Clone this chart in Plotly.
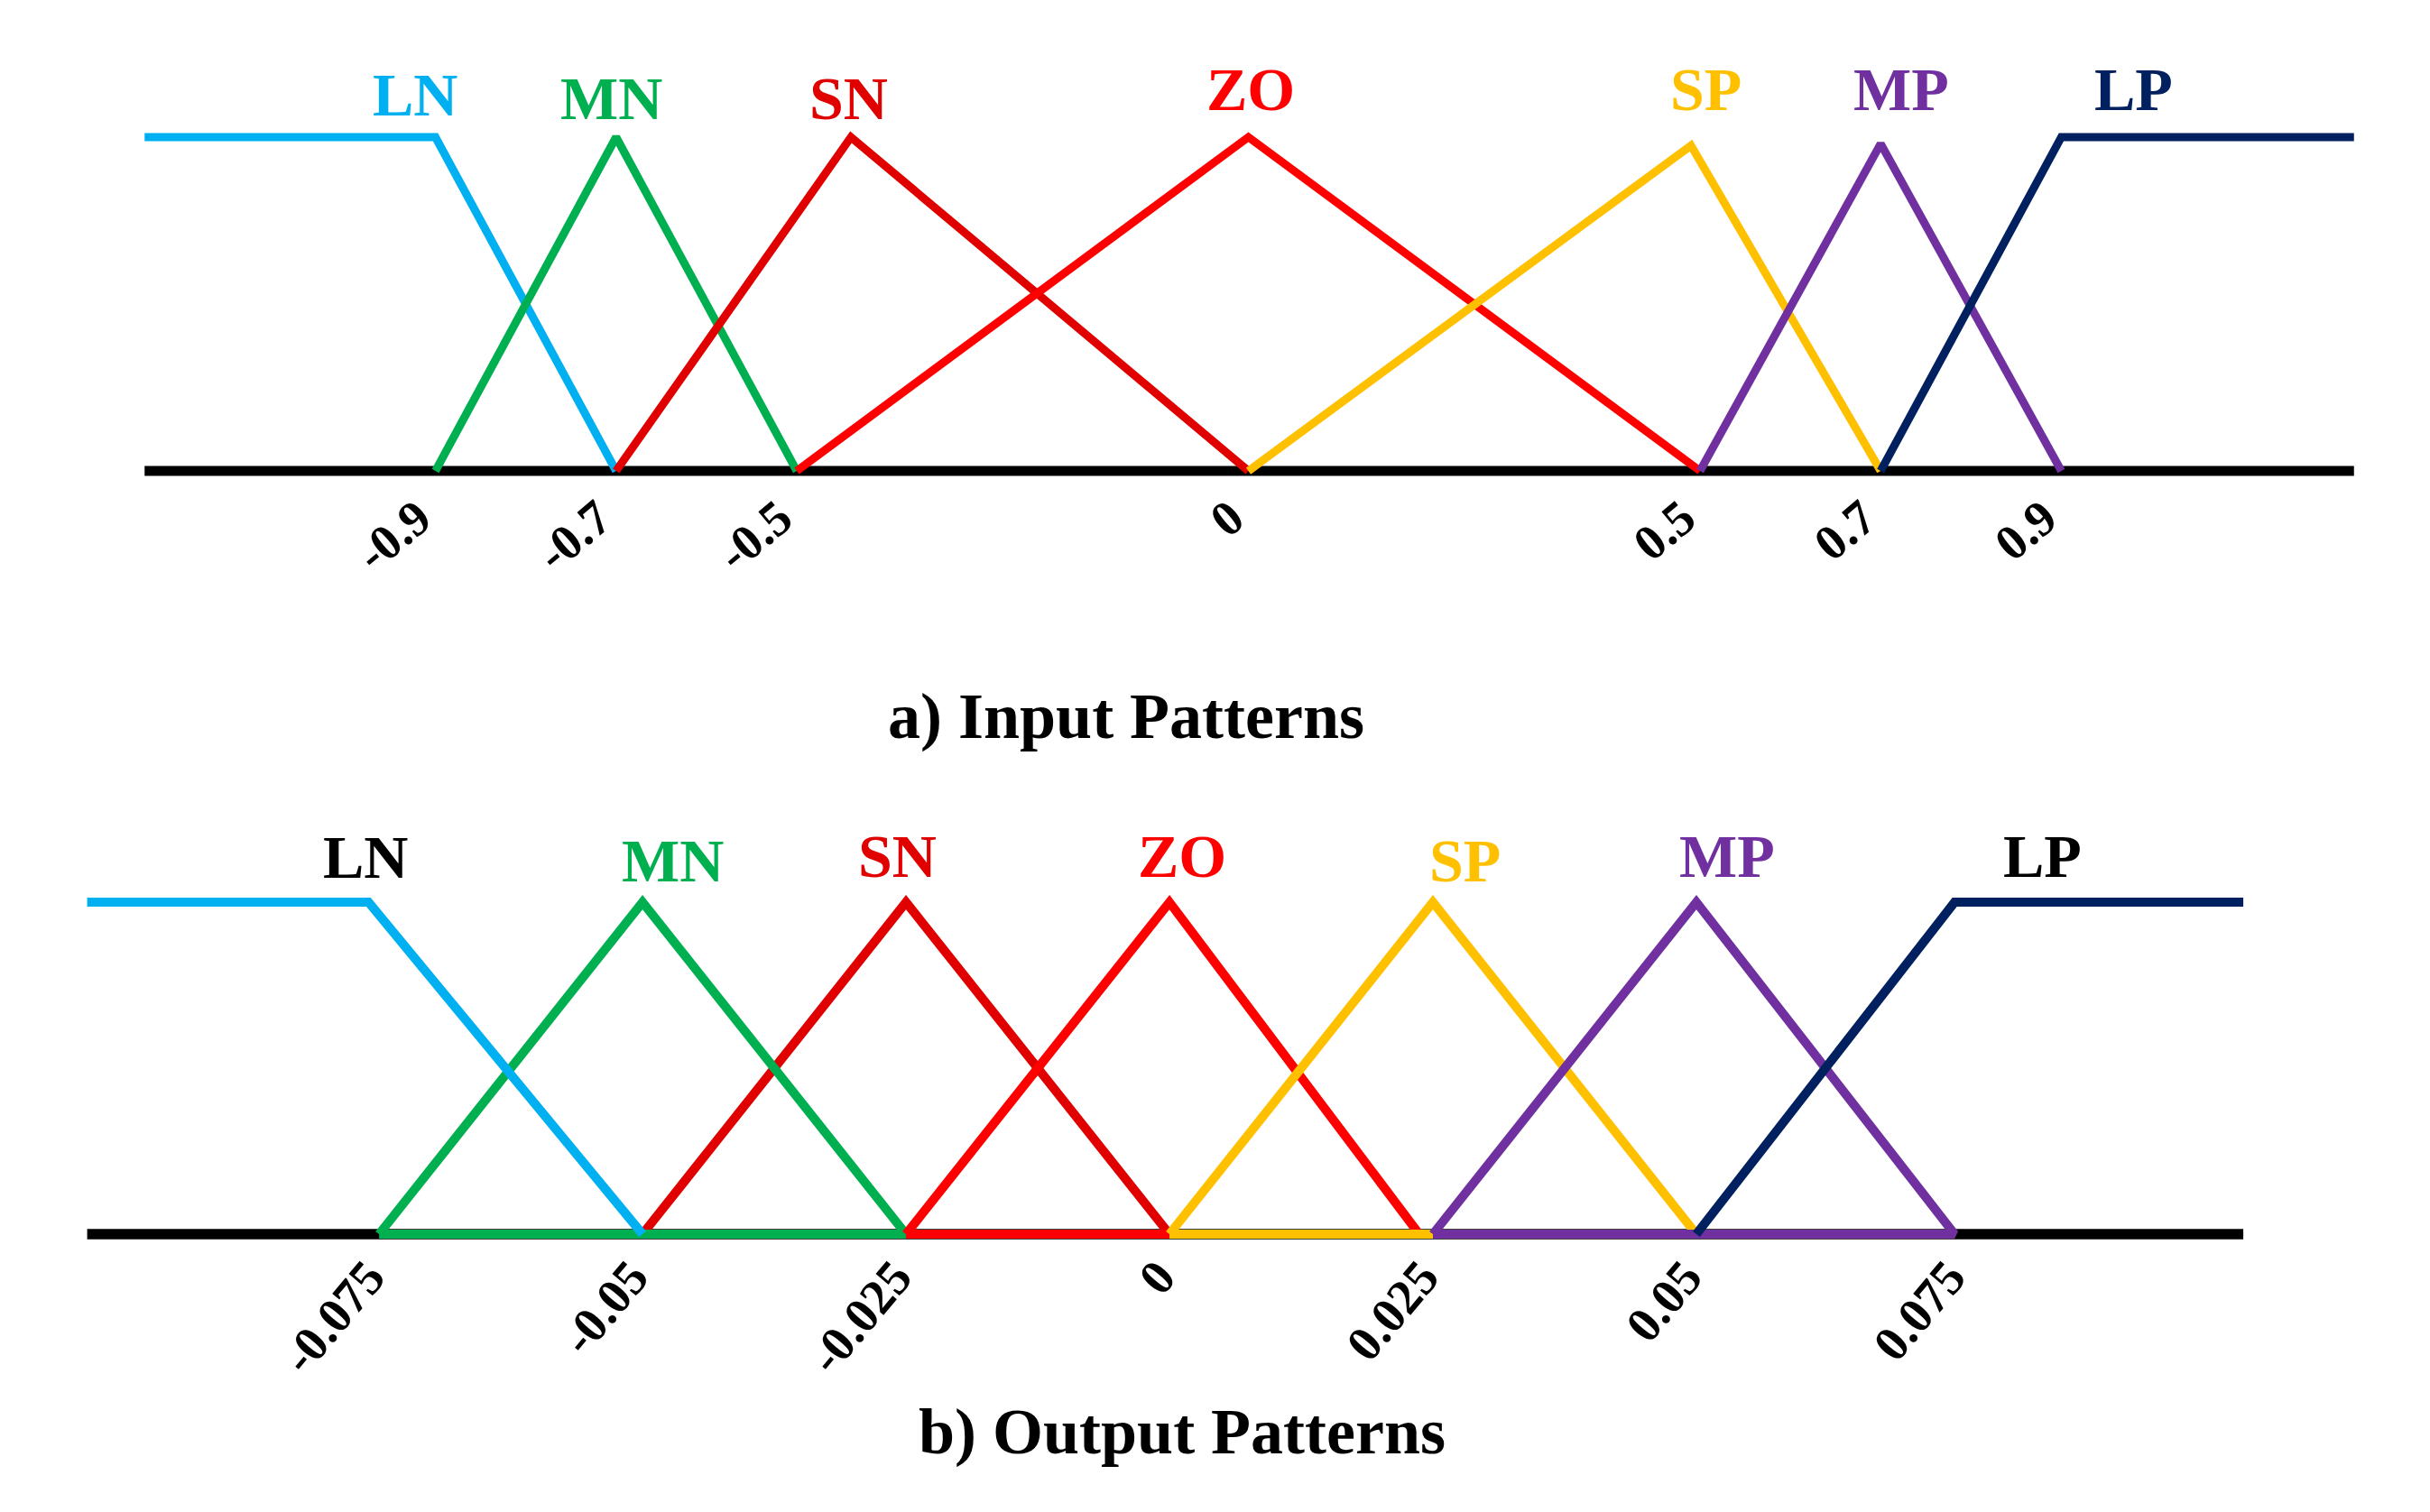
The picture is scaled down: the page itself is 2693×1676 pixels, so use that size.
import plotly.graph_objects as go

# ---------------- data ----------------
set_names = ["LN", "MN", "SN", "ZO", "SP", "MP", "LP"]

# a) input membership functions: breakpoints (x) and membership degrees (mu)
in_ticks = [-0.9, -0.7, -0.5, 0, 0.5, 0.7, 0.9]
in_tick_text = ["-0.9", "-0.7", "-0.5", "0", "0.5", "0.7", "0.9"]
in_universe = [-1.222, 1.224]
in_x = [
    [-1.222, -0.9, -0.7],
    [-0.9, -0.7, -0.5],
    [-0.7, -0.44, 0.0],
    [-0.5, 0.0, 0.5],
    [0.0, 0.49, 0.7],
    [0.5, 0.7, 0.9],
    [0.7, 0.9, 1.224],
]
in_mu = [
    [1, 1, 0],
    [0, 1, 0],
    [0, 1, 0],
    [0, 1, 0],
    [0, 0.975, 0],
    [0, 0.98, 0],
    [0, 1, 1],
]
in_label_x = [-0.923, -0.705, -0.443, 0.0025, 0.506, 0.723, 0.980]
in_label_y = [1.128, 1.115, 1.115, 1.142, 1.142, 1.142, 1.142]

# b) output membership functions
out_ticks = [-0.075, -0.05, -0.025, 0, 0.025, 0.05, 0.075]
out_tick_text = ["-0.075", "-0.05", "-0.025", "0", "0.025", "0.05", "0.075"]
out_universe = [-0.1027, 0.1019]
out_x = [
    [-0.1027, -0.076, -0.05],
    [-0.075, -0.05, -0.025],
    [-0.05, -0.025, 0.0],
    [-0.025, 0.0, 0.0237],
    [0.0, 0.025, 0.05],
    [0.025, 0.05, 0.0745],
    [0.05, 0.0745, 0.1019],
]
out_mu = [
    [1, 1, 0],
    [0, 1, 0],
    [0, 1, 0],
    [0, 1, 0],
    [0, 1, 0],
    [0, 1, 0],
    [0, 1, 1],
]
out_label_x = [-0.0763, -0.0471, -0.0258, 0.0012, 0.028, 0.0529, 0.0828]
out_label_y = [1.137, 1.124, 1.139, 1.139, 1.126, 1.139, 1.139]

# ---------------- styles ----------------
line_colors = ["#00B0F0", "#00B050", "#E00000", "#FF0000", "#FFC000", "#7030A0", "#002060"]
in_label_colors = line_colors
out_label_colors = ["#000000", "#00B050", "#E00000", "#FF0000", "#FFC000", "#7030A0", "#000000"]
FONT = "Liberation Serif, Times New Roman, serif"

fig = go.Figure()

# ---- top panel ----
fig.add_trace(go.Scatter(x=in_universe, y=[0, 0], mode="lines",
                         line=dict(color="black", width=11),
                         xaxis="x", yaxis="y", hoverinfo="skip", showlegend=False))
for i, name in enumerate(set_names):
    fig.add_trace(go.Scatter(x=in_x[i], y=in_mu[i], mode="lines", name=name,
                             line=dict(color=line_colors[i], width=9),
                             xaxis="x", yaxis="y", showlegend=False))

# ---- bottom panel ----
fig.add_trace(go.Scatter(x=out_universe, y=[0, 0], mode="lines",
                         line=dict(color="black", width=11.5),
                         xaxis="x2", yaxis="y2", hoverinfo="skip", showlegend=False))
order = [2, 1, 3, 4, 5, 6, 0]
for i in order:
    xs = list(out_x[i])
    ys = list(out_mu[i])
    if ys[0] == 0 and ys[-1] == 0:  # closed triangles
        xs = xs + [xs[0]]
        ys = ys + [ys[0]]
    fig.add_trace(go.Scatter(x=xs, y=ys, mode="lines", name=set_names[i],
                             line=dict(color=line_colors[i], width=10),
                             xaxis="x2", yaxis="y2", showlegend=False))

annotations = []
for i, name in enumerate(set_names):
    annotations.append(dict(x=in_label_x[i], y=in_label_y[i], xref="x", yref="y",
                            text="<b>%s</b>" % name, showarrow=False,
                            font=dict(family=FONT, size=68, color=in_label_colors[i]),
                            xanchor="center", yanchor="middle"))
    annotations.append(dict(x=out_label_x[i], y=out_label_y[i], xref="x2", yref="y2",
                            text="<b>%s</b>" % name, showarrow=False,
                            font=dict(family=FONT, size=68, color=out_label_colors[i]),
                            xanchor="center", yanchor="middle"))

annotations.append(dict(x=0.46063, y=0.53127, xref="paper", yref="paper",
                        text="<b>a) Input Patterns</b>", showarrow=False,
                        font=dict(family=FONT, size=72, color="black"),
                        xanchor="center", yanchor="middle"))
annotations.append(dict(x=0.48343, y=0.05787, xref="paper", yref="paper",
                        text="<b>b) Output Patterns</b>", showarrow=False,
                        font=dict(family=FONT, size=72, color="black"),
                        xanchor="center", yanchor="middle"))

axis_common = dict(showgrid=False, zeroline=False, showline=False, ticks="",
                   fixedrange=True)

fig.update_layout(
    width=2693, height=1676, autosize=False,
    margin=dict(l=0, r=0, t=0, b=0),
    paper_bgcolor="white", plot_bgcolor="white",
    xaxis=dict(domain=[0.04241, 0.97913], range=[-1.26, 1.26], anchor="y",
               tickmode="array", tickvals=in_ticks, ticktext=in_tick_text,
               tickangle=-40, ticklabelstandoff=-14, ticklabelshift=-19,
               tickfont=dict(family=FONT, size=55, color="black", weight="bold"),
               **axis_common),
    yaxis=dict(domain=[0.68007, 0.99797], range=[-0.06, 1.38], anchor="x",
               showticklabels=False, **axis_common),
    xaxis2=dict(domain=[0.00992, 0.94665], range=[-0.108, 0.108], anchor="y2",
                tickmode="array", tickvals=out_ticks, ticktext=out_tick_text,
                tickangle=-50, ticklabelstandoff=-19, ticklabelshift=-12,
                tickfont=dict(family=FONT, size=55, color="black", weight="bold"),
                **axis_common),
    yaxis2=dict(domain=[0.17537, 0.49587], range=[-0.06, 1.4], anchor="x2",
                showticklabels=False, **axis_common),
    annotations=annotations,
)

fig.write_html("out.html")
